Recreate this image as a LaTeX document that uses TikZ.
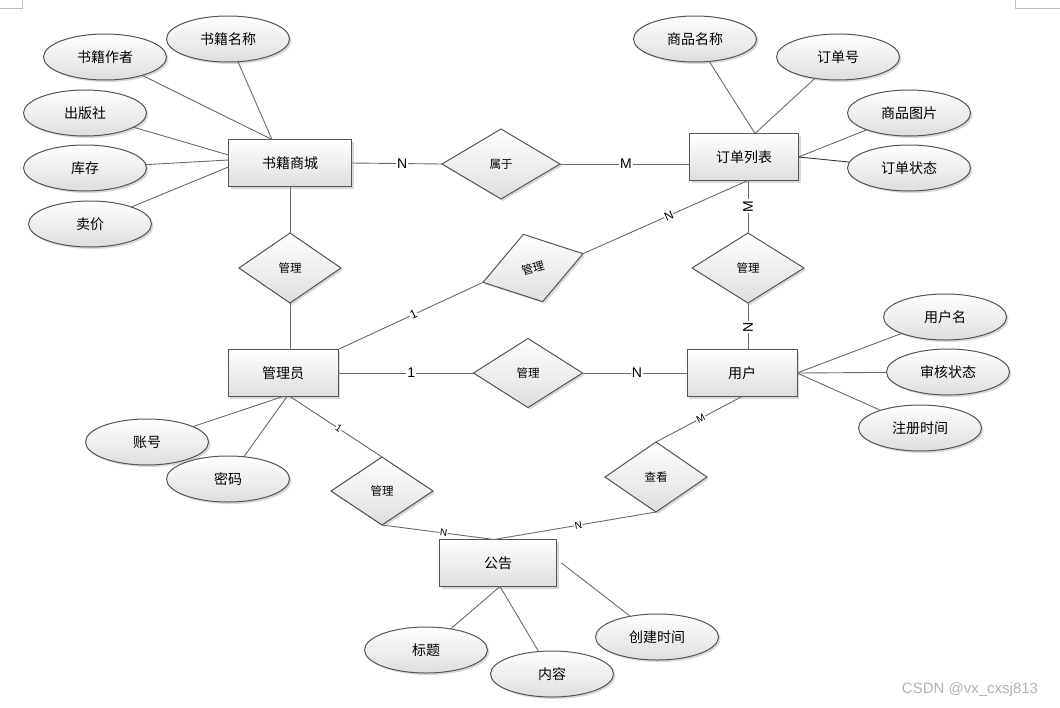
\documentclass[tikz,border=0pt]{standalone}
\usepackage{fontspec}
\setmainfont{Liberation Sans}
\newfontfamily\cjk{Noto Sans CJK SC}
\usepackage{tikz}
\usetikzlibrary{shapes.geometric,shadows}
\definecolor{lineGray}{HTML}{6A6A6A}
\definecolor{edgeGray}{HTML}{555555}

\begin{document}
\begin{tikzpicture}[x=1pt,y=-1pt,
shape base/.style={draw=edgeGray,line width=1pt,top color=white,bottom color=black!13,inner sep=0pt,outer sep=0pt,
  drop shadow={shadow xshift=2pt,shadow yshift=-2pt,fill=black!30,opacity=0.5}},
box/.style={shape base,rectangle,minimum height=47pt,font=\cjk\fontsize{14}{14}\selectfont},
attr/.style={shape base,ellipse,minimum width=123pt,minimum height=46pt,font=\cjk\fontsize{14}{14}\selectfont},
rel/.style={shape base,diamond,minimum height=70pt,font=\cjk\fontsize{11.5}{12}\selectfont},
link/.style={draw=lineGray,line width=0.9pt},
edgeLabel/.style={fill=white,inner sep=1pt,font=\fontsize{14}{14}\selectfont},
slopeLabel/.style={fill=white,inner sep=0.5pt,font=\fontsize{12}{12}\selectfont,sloped},
smallLabel/.style={fill=white,inner sep=0.5pt,font=\fontsize{10}{10}\selectfont,sloped}]
\useasboundingbox (0,0) rectangle (1060,707);
\draw[black!25] (0,8) -- (22,8) -- (22,0);
\draw[black!25] (1015,0) -- (1015,8) -- (1060,8);

% entities
\node[box,minimum width=123pt] (mall) at (290,163) {书籍商城};
\node[box,minimum width=109pt] (order) at (744,157) {订单列表};
\node[box,minimum width=110pt] (admin) at (283,373) {管理员};
\node[box,minimum width=110pt] (user) at (742,373) {用户};
\node[box,minimum width=117pt] (notice) at (498,563) {公告};

% relations
\node[rel,minimum width=118pt] (belong) at (501,164) {属于};
\node[rel,minimum width=102pt] (mgrL) at (290,268) {管理};
\node[rel,minimum width=104pt,minimum height=70pt,rotate=16] (mgrT) at (533,268) {管理};
\node[rel,minimum width=112pt] (mgrR) at (748,268) {管理};
\node[rel,minimum width=109pt,minimum height=69pt] (mgrM) at (528,373) {管理};
\node[rel,minimum width=102pt,minimum height=68pt] (mgrB) at (382,491) {管理};
\node[rel,minimum width=102pt] (view) at (656,477) {查看};

% attributes
\node[attr] (bookName) at (228,39) {书籍名称};
\node[attr] (author) at (105,57) {书籍作者};
\node[attr] (press) at (85,113) {出版社};
\node[attr] (stock) at (85,168) {库存};
\node[attr] (price) at (90,224) {卖价};
\node[attr] (goodsName) at (695,39) {商品名称};
\node[attr] (orderNo) at (838,57) {订单号};
\node[attr] (picture) at (909,113) {商品图片};
\node[attr] (status) at (909,168) {订单状态};
\node[attr] (userName) at (945,317) {用户名};
\node[attr] (audit) at (948,372) {审核状态};
\node[attr] (regTime) at (920,428) {注册时间};
\node[attr] (account) at (147,442) {账号};
\node[attr] (password) at (228,479) {密码};
\node[attr] (title) at (426,650) {标题};
\node[attr] (content) at (552,674) {内容};
\node[attr] (created) at (657,637) {创建时间};

\node[text=black!30,font=\fontsize{15}{15}\selectfont] (mark) at (970,690) {CSDN @vx\_cxsj813};

% attribute links
\draw[link] (author) -- ([xshift=-18pt]mall.north);
\draw[link] (bookName) -- ([xshift=-18pt]mall.north);
\draw[link] (press) -- ([yshift=8pt]mall.west);
\draw[link] (stock) -- ([yshift=3pt]mall.west);
\draw[link] (price) -- ([yshift=-4pt]mall.west);
\draw[link] (goodsName) -- ([xshift=11pt]order.north);
\draw[link] (orderNo) -- ([xshift=11pt]order.north);
\draw[link] (picture) -- (order.east);
\draw[link,draw=black!80] (status) -- (order.east);
\draw[link] (userName) -- (user.east);
\draw[link] (audit) -- (user.east);
\draw[link] (regTime) -- (user.east);
\draw[link] (account) -- (admin.south);
\draw[link] (password) -- ([xshift=4pt]admin.south);
\draw[link] (title) -- ([xshift=2pt]notice.south);
\draw[link] (content) -- ([xshift=2pt]notice.south);
\draw[link] (created) -- ([xshift=5pt]notice.east);

% relation links
\draw[link] (mall.east) -- node[edgeLabel,pos=0.56] {N} (belong.west);
\draw[link] (belong.east) -- node[edgeLabel,pos=0.51] {M} (belong.east -| order.west);
\draw[link] (mall.south -| mgrL) -- (mgrL.north);
\draw[link] (mgrL.south) -- (mgrL.south |- admin.north);
\draw[link] (order.south -| mgrR) -- node[edgeLabel,rotate=90,pos=0.49] {M} (mgrR.north);
\draw[link] (mgrR.south) -- node[edgeLabel,rotate=90,pos=0.52] {N} (mgrR.south |- user.north);
\draw[link] (admin.north east) -- node[slopeLabel,pos=0.52] {1} (mgrT.west);
\draw[link] (mgrT.east) -- node[slopeLabel,pos=0.52] {N} (order.south -| mgrR);
\draw[link] (admin.east) -- node[edgeLabel,pos=0.54] {1} (mgrM.west);
\draw[link] (mgrM.east) -- node[edgeLabel,pos=0.52] {N} (user.west);
\draw[link] ([xshift=7pt]admin.south) -- node[smallLabel,pos=0.53] {1} (mgrB.north);
\draw[link] (mgrB.south) -- node[smallLabel,pos=0.55] {N} ([xshift=-4pt]notice.north);
\draw[link] (view.south) -- node[smallLabel,pos=0.48] {N} ([xshift=-4pt]notice.north);
\draw[link] (view.north) -- node[smallLabel,pos=0.52] {M} (user.south);
\end{tikzpicture}
\end{document}
